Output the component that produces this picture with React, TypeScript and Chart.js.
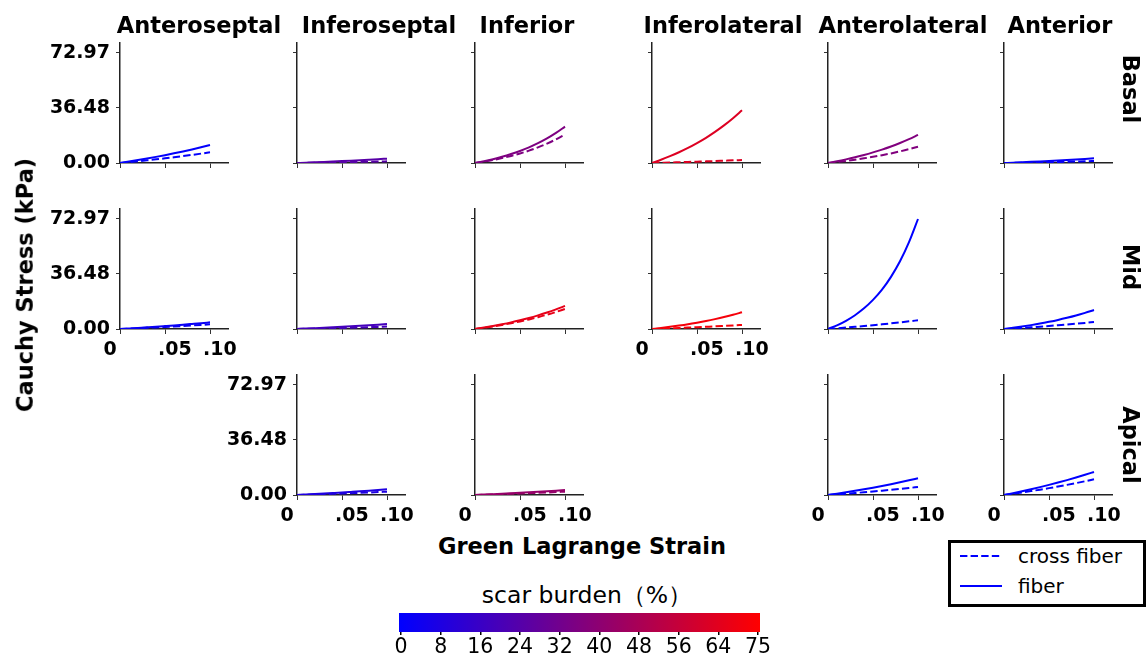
import React, { useEffect, useRef } from 'react';
import { Chart, registerables } from 'chart.js';

Chart.register(...registerables);
Chart.defaults.font.family = 'DejaVu Sans';

// ---------- data ----------
const STRAIN = [0, 0.01, 0.02, 0.03, 0.04, 0.05, 0.06, 0.07, 0.08, 0.09, 0.1];
const SEGMENTS = ['Anteroseptal', 'Inferoseptal', 'Inferior', 'Inferolateral', 'Anterolateral', 'Anterior'];
const LEVELS = ['Basal', 'Mid', 'Apical'];

const Y_TICKS = [0, 36.485, 72.97];
const Y_TICK_LABELS = ['0.00', '36.48', '72.97'];
const Y_MAX = 79.6;
const X_TICKS = [0, 0.05, 0.1];
const X_TICK_LABELS = ['0', '.05', '.10'];
const X_MAX = 0.12;
const CB_TICK_LABELS = ['0', '8', '16', '24', '32', '40', '48', '56', '64', '75'];
const SCAR_MAX = 75;

const BASAL_SCAR = [1, 26, 37, 65, 38, 2];
const MID_SCAR = [3, 20, 68, 72, 0, 0];
const APICAL_SCAR = [null, 9, 44, null, 0, 0];

const BASAL_FIBER = [
  [0, 0.94, 1.93, 2.96, 4.06, 5.21, 6.41, 7.69, 9.02, 10.42, 11.9],
  [0, 0.23, 0.47, 0.72, 0.99, 1.27, 1.56, 1.87, 2.2, 2.54, 2.9],
  [0, 1.18, 2.55, 4.12, 5.93, 8.0, 10.39, 13.13, 16.29, 19.93, 24.1],
  [0, 2.14, 4.52, 7.14, 10.01, 13.23, 16.73, 20.65, 24.96, 29.75, 35.0],
  [0, 1.13, 2.4, 3.79, 5.32, 7.03, 8.89, 10.97, 13.26, 15.81, 18.6],
  [0, 0.24, 0.5, 0.77, 1.06, 1.36, 1.67, 2.0, 2.35, 2.72, 3.1],
];
const BASAL_CROSS = [
  [0, 0.56, 1.15, 1.77, 2.42, 3.11, 3.83, 4.59, 5.38, 6.22, 7.1],
  [0, 0.09, 0.18, 0.27, 0.38, 0.48, 0.59, 0.71, 0.83, 0.96, 1.1],
  [0, 0.93, 2.01, 3.25, 4.67, 6.31, 8.19, 10.36, 12.84, 15.71, 19.0],
  [0, 0.16, 0.32, 0.5, 0.68, 0.88, 1.08, 1.29, 1.52, 1.75, 2.0],
  [0, 0.66, 1.39, 2.2, 3.09, 4.08, 5.16, 6.37, 7.7, 9.18, 10.8],
  [0, 0.1, 0.21, 0.32, 0.44, 0.57, 0.7, 0.83, 0.99, 1.14, 1.3],
];
const MID_FIBER = [
  [0, 0.35, 0.71, 1.1, 1.5, 1.93, 2.37, 2.84, 3.34, 3.85, 4.4],
  [0, 0.26, 0.53, 0.82, 1.13, 1.45, 1.78, 2.13, 2.5, 2.89, 3.3],
  [0, 0.93, 1.97, 3.12, 4.38, 5.78, 7.31, 9.03, 10.91, 13.01, 15.3],
  [0, 0.68, 1.43, 2.26, 3.17, 4.2, 5.31, 6.55, 7.91, 9.44, 11.1],
  [0, 2.45, 5.46, 9.15, 13.7, 19.3, 26.1, 34.6, 44.9, 57.6, 72.97],
  [0, 0.77, 1.63, 2.57, 3.6, 4.76, 6.02, 7.43, 8.98, 10.71, 12.6],
];
const MID_CROSS = [
  [0, 0.24, 0.5, 0.77, 1.06, 1.36, 1.67, 2.0, 2.35, 2.72, 3.1],
  [0, 0.13, 0.26, 0.4, 0.55, 0.7, 0.86, 1.03, 1.21, 1.4, 1.6],
  [0, 0.81, 1.72, 2.71, 3.8, 5.03, 6.36, 7.85, 9.48, 11.31, 13.3],
  [0, 0.21, 0.44, 0.67, 0.92, 1.18, 1.46, 1.74, 2.05, 2.37, 2.7],
  [0, 0.46, 0.94, 1.44, 1.98, 2.54, 3.13, 3.75, 4.4, 5.08, 5.8],
  [0, 0.36, 0.75, 1.15, 1.57, 2.01, 2.48, 2.97, 3.49, 4.03, 4.6],
];
const APICAL_FIBER = [
  null,
  [0, 0.3, 0.62, 0.95, 1.3, 1.66, 2.05, 2.45, 2.88, 3.33, 3.8],
  [0, 0.26, 0.53, 0.82, 1.13, 1.45, 1.78, 2.13, 2.5, 2.89, 3.3],
  null,
  [0, 0.88, 1.8, 2.76, 3.79, 4.86, 5.98, 7.17, 8.41, 9.72, 11.1],
  [0, 1.21, 2.48, 3.81, 5.22, 6.7, 8.25, 9.88, 11.6, 13.4, 15.3],
];
const APICAL_CROSS = [
  null,
  [0, 0.17, 0.36, 0.55, 0.75, 0.96, 1.19, 1.42, 1.67, 1.93, 2.2],
  [0, 0.17, 0.36, 0.55, 0.75, 0.96, 1.19, 1.42, 1.67, 1.93, 2.2],
  null,
  [0, 0.42, 0.86, 1.32, 1.81, 2.32, 2.86, 3.42, 4.02, 4.64, 5.3],
  [0, 0.82, 1.68, 2.59, 3.55, 4.56, 5.61, 6.72, 7.88, 9.11, 10.4],
];

// ---------- layout ----------
const COL_X = [120, 297, 475, 652, 828, 1004];
const ROW_ZERO_Y = [163, 329, 495];
const TITLE_X = [199, 379, 527, 723, 903, 1060];
const LEVEL_Y = [89, 267, 445];
const YW = 84;
const PW = 108;
const RP = 22;
const TP = 14;
const PH = 120;
const XH = 36;
const FONT = 'DejaVu Sans';

function scarColor(p: number) {
  const t = Math.max(0, Math.min(1, p / SCAR_MAX));
  return `rgb(${Math.round(255 * t)},0,${Math.round(255 * (1 - t))})`;
}

function xLabel(i: number) {
  const l = X_TICK_LABELS[i];
  return i === 0 ? l + '   ' : '   ' + l;
}

type PanelProps = {
  row: number;
  col: number;
  fiber: number[];
  cross: number[];
  scar: number;
  showX: boolean;
  showY: boolean;
};

function Panel({ row, col, fiber, cross, scar, showX, showY }: PanelProps) {
  const ref = useRef<HTMLCanvasElement>(null);
  useEffect(() => {
    const color = scarColor(scar);
    const tickFont = { family: FONT, size: 19, weight: 'bold' as const };
    const chart = new Chart(ref.current!, {
      type: 'line',
      data: {
        datasets: [
          {
            data: STRAIN.map((x, i) => ({ x, y: fiber[i] })),
            borderColor: color,
            borderWidth: 2,
            pointRadius: 0,
            cubicInterpolationMode: 'monotone',
            fill: false,
          },
          {
            data: STRAIN.map((x, i) => ({ x, y: cross[i] })),
            borderColor: color,
            borderWidth: 2,
            borderDash: [7.4, 3.2],
            pointRadius: 0,
            cubicInterpolationMode: 'monotone',
            fill: false,
          },
        ],
      },
      options: {
        animation: false,
        responsive: false,
        devicePixelRatio: 1,
        layout: { padding: { top: TP, right: RP, left: 0, bottom: 0 }, autoPadding: false },
        plugins: { legend: { display: false }, tooltip: { enabled: false } },
        scales: {
          x: {
            type: 'linear',
            min: 0,
            max: X_MAX,
            afterBuildTicks: (s: any) => {
              s.ticks = X_TICKS.map((v) => ({ value: v }));
            },
            afterFit: (s: any) => {
              s.height = XH;
              s.paddingLeft = 0;
              s.paddingRight = 0;
            },
            ticks: {
              autoSkip: false,
              maxRotation: 0,
              minRotation: 0,
              padding: 5,
              color: '#000',
              font: tickFont,
              callback: (_v: any, i: number) => (showX ? xLabel(i) : ''),
            },
            grid: { display: true, drawOnChartArea: false, drawTicks: true, tickLength: 5, color: '#333', lineWidth: 1 },
            border: { display: true, color: '#222', width: 1.5 },
          },
          y: {
            type: 'linear',
            min: 0,
            max: Y_MAX,
            afterBuildTicks: (s: any) => {
              s.ticks = Y_TICKS.map((v) => ({ value: v }));
            },
            afterFit: (s: any) => {
              s.width = YW;
              s.paddingTop = 0;
              s.paddingBottom = 0;
            },
            ticks: {
              autoSkip: false,
              padding: 6,
              color: '#000',
              font: tickFont,
              callback: (_v: any, i: number) => (showY ? Y_TICK_LABELS[i] : ''),
            },
            grid: { display: true, drawOnChartArea: false, drawTicks: true, tickLength: 4, color: '#333', lineWidth: 1 },
            border: { display: true, color: '#222', width: 1.5 },
          },
        },
      } as any,
    });
    return () => chart.destroy();
  }, []);
  const CW = YW + PW + RP;
  const CH = TP + PH + XH;
  return (
    <canvas
      ref={ref}
      width={CW}
      height={CH}
      style={{
        position: 'absolute',
        left: COL_X[col] - YW,
        top: ROW_ZERO_Y[row] - PH - TP,
        width: CW,
        height: CH,
      }}
    />
  );
}

const CB_LEFT = 399;
const CB_RIGHT = 760;
const CB_TOP = 613;
const CB_BOTTOM = 632;
const CB_PAD = 24;

function Colorbar() {
  const ref = useRef<HTMLCanvasElement>(null);
  useEffect(() => {
    const n = CB_TICK_LABELS.length - 1;
    const lo = -0.05;
    const hi = n + 0.05;
    const chart = new Chart(ref.current!, {
      type: 'bar',
      data: {
        labels: [''],
        datasets: [
          {
            data: [[lo, hi]],
            backgroundColor: (ctx: any) => {
              const a = ctx.chart.chartArea;
              if (!a) return 'purple';
              const g = ctx.chart.ctx.createLinearGradient(a.left, 0, a.right, 0);
              g.addColorStop(0, scarColor(0));
              g.addColorStop(1, scarColor(SCAR_MAX));
              return g;
            },
            borderWidth: 0,
            borderSkipped: false,
            barPercentage: 1,
            categoryPercentage: 1,
          },
        ],
      },
      options: {
        indexAxis: 'y',
        animation: false,
        responsive: false,
        devicePixelRatio: 1,
        layout: { padding: { top: 2, right: CB_PAD, left: CB_PAD, bottom: 0 }, autoPadding: false },
        plugins: { legend: { display: false }, tooltip: { enabled: false } },
        scales: {
          x: {
            type: 'linear',
            min: lo,
            max: hi,
            afterBuildTicks: (s: any) => {
              s.ticks = CB_TICK_LABELS.map((_, i) => ({ value: i }));
            },
            afterFit: (s: any) => {
              s.height = 30;
              s.paddingLeft = 0;
              s.paddingRight = 0;
            },
            ticks: {
              autoSkip: false,
              maxRotation: 0,
              padding: 0,
              color: '#000',
              font: { family: FONT, size: 20.5 },
              callback: (_v: any, i: number) => CB_TICK_LABELS[i],
            },
            grid: { display: true, drawOnChartArea: false, drawTicks: true, tickLength: 3, color: '#000', lineWidth: 1.5 },
            border: { display: false },
          },
          y: { display: false },
        },
      } as any,
    });
    return () => chart.destroy();
  }, []);
  const CW = CB_RIGHT - CB_LEFT + 2 * CB_PAD;
  const CH = 2 + (CB_BOTTOM - CB_TOP) + 30;
  return (
    <canvas
      ref={ref}
      width={CW}
      height={CH}
      style={{ position: 'absolute', left: CB_LEFT - CB_PAD, top: CB_TOP - 2, width: CW, height: CH }}
    />
  );
}

function Txt({ x, y, size, bold, rotate, left, children }: any) {
  return (
    <div
      style={{
        position: 'absolute',
        left: x,
        top: y,
        transform: `translate(${left ? '0' : '-50%'}, -50%) rotate(${rotate || 0}deg)`,
        fontSize: size,
        fontWeight: bold ? 'bold' : 'normal',
        lineHeight: 1,
        whiteSpace: 'nowrap',
        fontFamily: FONT,
        color: '#000',
      }}
    >
      {children}
    </div>
  );
}

export default function App() {
  const panels: PanelProps[] = [];
  const levelFiber = [BASAL_FIBER, MID_FIBER, APICAL_FIBER];
  const levelCross = [BASAL_CROSS, MID_CROSS, APICAL_CROSS];
  const levelScar = [BASAL_SCAR, MID_SCAR, APICAL_SCAR];
  for (let r = 0; r < LEVELS.length; r++) {
    for (let c = 0; c < SEGMENTS.length; c++) {
      const f = levelFiber[r][c];
      const x = levelCross[r][c];
      const s = levelScar[r][c];
      if (!f || !x || s === null) continue;
      const showY = (c === 0 && r < 2) || (c === 1 && r === 2);
      const showX = (r === 1 && (c === 0 || c === 3)) || r === 2;
      panels.push({ row: r, col: c, fiber: f, cross: x, scar: s as number, showX, showY });
    }
  }
  return (
    <div
      style={{
        position: 'absolute',
        left: 0,
        top: 0,
        width: 1148,
        height: 663,
        background: '#fff',
        overflow: 'hidden',
        fontFamily: FONT,
      }}
    >
      {panels.map((p) => (
        <Panel key={`${p.row}-${p.col}`} {...p} />
      ))}
      {SEGMENTS.map((s, i) => (
        <Txt key={s} x={TITLE_X[i]} y={25} size={22.5} bold>
          {s}
        </Txt>
      ))}
      {LEVELS.map((l, i) => (
        <Txt key={l} x={1131} y={LEVEL_Y[i]} size={22.5} bold rotate={90}>
          {l}
        </Txt>
      ))}
      <Txt x={25} y={285} size={22.5} bold rotate={-90}>
        Cauchy Stress (kPa)
      </Txt>
      <Txt x={582} y={546} size={22.5} bold>
        Green Lagrange Strain
      </Txt>
      <Txt x={580} y={596} size={23.5} left={false}>
        <span style={{ position: 'relative', left: 7 }}>scar burden（%）</span>
      </Txt>
      <Colorbar />
      <div
        style={{
          position: 'absolute',
          left: 948,
          top: 540,
          width: 198,
          height: 67,
          boxSizing: 'border-box',
          border: '3px solid #000',
          background: '#fff',
        }}
      >
        <svg width={60} height={61} style={{ position: 'absolute', left: 0, top: 0 }}>
          <line x1={9} y1={13} x2={51} y2={13} stroke="rgb(0,0,255)" strokeWidth={2} strokeDasharray="7.4 3.2" />
          <line x1={9} y1={43} x2={51} y2={43} stroke="rgb(0,0,255)" strokeWidth={2} />
        </svg>
      </div>
      <Txt x={1018} y={556} size={20} left>
        cross fiber
      </Txt>
      <Txt x={1018} y={586} size={20} left>
        fiber
      </Txt>
    </div>
  );
}
